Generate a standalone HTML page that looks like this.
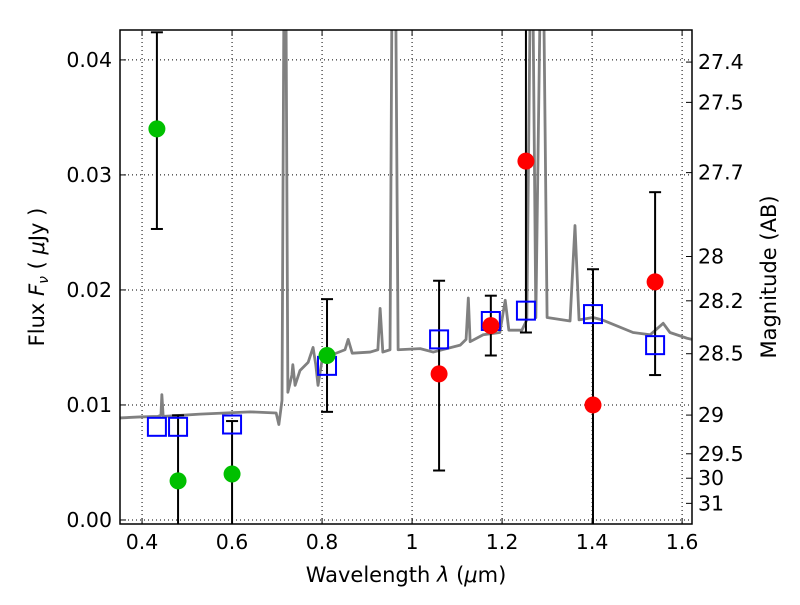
<!DOCTYPE html>
<html><head><meta charset="utf-8"><style>
body{margin:0;background:#fff;}
svg text{font-family:"DejaVu Sans","Liberation Sans",sans-serif;fill:#000;}
</style></head><body>
<svg id="chart" width="800" height="600" xmlns="http://www.w3.org/2000/svg"></svg>
<script>
const specWave=[0.351,0.395,0.435,0.442,0.444,0.447,0.529,0.640,0.698,0.704,0.711,0.715,0.720,0.724,0.733,0.735,0.740,0.751,0.769,0.780,0.786,0.791,0.800,0.818,0.851,0.858,0.867,0.907,0.924,0.929,0.935,0.951,0.955,0.964,0.969,1.018,1.047,1.107,1.120,1.125,1.129,1.158,1.195,1.207,1.215,1.244,1.255,1.262,1.269,1.275,1.284,1.293,1.300,1.351,1.362,1.371,1.402,1.422,1.491,1.529,1.558,1.573,1.611,1.622];
const specFlux=[0.00887,0.00896,0.0090,0.0091,0.0109,0.0090,0.0092,0.0094,0.0093,0.0083,0.0104,0.0435,0.0435,0.0111,0.0126,0.0135,0.0117,0.0130,0.0137,0.0150,0.0135,0.0117,0.0139,0.0143,0.0148,0.0157,0.0145,0.0146,0.0148,0.0184,0.0146,0.0148,0.0435,0.0435,0.0148,0.0149,0.0146,0.0152,0.0157,0.0193,0.0155,0.0161,0.0163,0.0191,0.0165,0.0165,0.0174,0.0435,0.0435,0.0176,0.0435,0.0435,0.0176,0.0173,0.0256,0.0174,0.0176,0.0174,0.0163,0.0161,0.0171,0.0163,0.0158,0.0157];
const greenWave=[0.433,0.480,0.600,0.811];
const greenFlux=[0.034,0.0034,0.0040,0.0143];
const greenLo=[0.0253,-0.01,-0.01,0.0094];
const greenHi=[0.0424,0.0091,0.0086,0.0192];
const redWave=[1.060,1.175,1.253,1.402,1.540];
const redFlux=[0.0127,0.0169,0.0312,0.0100,0.0207];
const redLo=[0.0043,0.0143,0.0163,-0.01,0.0126];
const redHi=[0.0208,0.0195,0.05,0.0218,0.0285];
const modelWave=[0.433,0.480,0.600,0.811,1.060,1.175,1.253,1.402,1.540];
const modelFlux=[0.0081,0.0081,0.0083,0.0134,0.0157,0.0173,0.0182,0.0179,0.0152];
const xTicks=[0.4,0.6,0.8,1.0,1.2,1.4,1.6];
const xTickLabels=["0.4","0.6","0.8","1","1.2","1.4","1.6"];
const yTicks=[0,0.01,0.02,0.03,0.04];
const yTickLabels=["0.00","0.01","0.02","0.03","0.04"];
const magTicks=[27.4,27.5,27.7,28,28.2,28.5,29,29.5,30,31];

const L=120,R=692,T=30,B=524,X0=0.351,X1=1.622,Y0=-0.00035,Y1=0.0426;
const sx=v=>L+(v-X0)/(X1-X0)*(R-L);
const sy=v=>B-(v-Y0)/(Y1-Y0)*(B-T);
const NS="http://www.w3.org/2000/svg";
const svg=document.getElementById('chart');
function mk(tag,attrs,parent){const e=document.createElementNS(NS,tag);for(const k in attrs)e.setAttribute(k,attrs[k]);(parent||svg).appendChild(e);return e;}
const defs=mk('defs',{});const cp=mk('clipPath',{id:'clip'},defs);mk('rect',{x:L,y:T,width:R-L,height:B-T},cp);

xTicks.forEach((t,i)=>{
 const g=mk('line',{x1:sx(t),x2:sx(t),y1:T,y2:B,stroke:'#000','stroke-width':1,'stroke-dasharray':'1,3'});
 
 
 const tk=mk('line',{x1:sx(t),x2:sx(t),y1:B,y2:B-6,stroke:'#000'});
 
 
 mk('line',{x1:sx(t),x2:sx(t),y1:T,y2:T+6,stroke:'#000'});
 const lb=mk('text',{x:sx(t),y:B+25,'text-anchor':'middle','font-size':20.5});lb.textContent=xTickLabels[i];
 
 
});
yTicks.forEach((t,i)=>{
 const g=mk('line',{x1:L,x2:R,y1:sy(t),y2:sy(t),stroke:'#000','stroke-width':1,'stroke-dasharray':'1,3'});
 
 
 mk('line',{x1:L,x2:L+6,y1:sy(t),y2:sy(t),stroke:'#000'});
 const lb=mk('text',{x:L-8,y:sy(t)+7,'text-anchor':'end','font-size':20.5});lb.textContent=yTickLabels[i];
 
 
});
magTicks.forEach(m=>{
 const f=Math.pow(10,(23.9-m)/2.5);const y=sy(f);
 mk('line',{x1:R,x2:R-6,y1:y,y2:y,stroke:'#000'});
 const lb=mk('text',{x:R+6,y:y+7,'font-size':20.5});lb.textContent=String(m);
 
 
});

const gp=mk('g',{'clip-path':'url(#clip)'});
const spec=mk('polyline',{points:specWave.map((w,i)=>sx(w)+','+sy(specFlux[i])).join(' '),fill:'none',stroke:'#808080','stroke-width':2.8,'stroke-linejoin':'round'},gp);



function errbars(ws,lo,hi,name){
 ws.forEach((w,i)=>{
  const x=sx(w);
  const l=mk('line',{x1:x,x2:x,y1:sy(lo[i]),y2:sy(hi[i]),stroke:'#000','stroke-width':2},gp);
  
  
  mk('line',{x1:x-6,x2:x+6,y1:sy(lo[i]),y2:sy(lo[i]),stroke:'#000','stroke-width':2},gp);
  mk('line',{x1:x-6,x2:x+6,y1:sy(hi[i]),y2:sy(hi[i]),stroke:'#000','stroke-width':2},gp);
 });
}
errbars(greenWave,greenLo,greenHi,'green-error-bar');
errbars(redWave,redLo,redHi,'red-error-bar');
modelWave.forEach((w,i)=>{
 const r=mk('rect',{x:sx(w)-9,y:sy(modelFlux[i])-9,width:18,height:18,fill:'none',stroke:'#0000ff','stroke-width':2},gp);
 
 
});
greenWave.forEach((w,i)=>{
 const c=mk('circle',{cx:sx(w),cy:sy(greenFlux[i]),r:8.5,fill:'#00c000'},gp);
 
 
});
redWave.forEach((w,i)=>{
 const c=mk('circle',{cx:sx(w),cy:sy(redFlux[i]),r:8.5,fill:'#ff0000'},gp);
 
 
});

const fr=mk('rect',{x:L,y:T,width:R-L,height:B-T,fill:'none',stroke:'#000','stroke-width':1.5});


</script>
<svg style="position:absolute;left:0;top:0" width="800" height="600" xmlns="http://www.w3.org/2000/svg">
<text x="406" y="582" text-anchor="middle" font-size="21">Wavelength  <tspan font-style="italic">λ</tspan> (<tspan font-style="italic">μ</tspan>m)</text>
<text transform="translate(44,277) rotate(-90)" text-anchor="middle" font-size="21">Flux  <tspan font-style="italic">F<tspan font-size="14" dy="4">ν</tspan></tspan><tspan dy="-4">  ( </tspan><tspan font-style="italic">μ</tspan>Jy )</text>
<text transform="translate(776,277) rotate(-90)" text-anchor="middle" font-size="21">Magnitude (AB)</text>
</svg>
</body></html>
